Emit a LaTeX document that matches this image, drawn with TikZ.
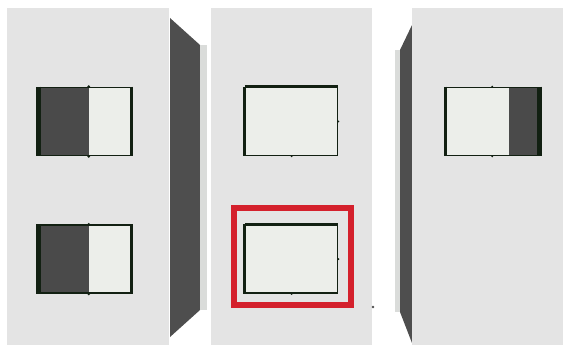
\documentclass[tikz,border=0pt]{standalone}
\usetikzlibrary{calc,positioning}
\definecolor{PanelGrey}{RGB}{228,228,228}
\definecolor{SideGrey}{RGB}{78,78,78}
\definecolor{StripGrey}{RGB}{218,220,218}
\definecolor{BoxFill}{RGB}{236,238,234}
\definecolor{BoxLine}{RGB}{18,32,18}
\definecolor{DarkFill}{RGB}{74,74,74}
\definecolor{FrameRed}{RGB}{212,32,44}
\tikzset{
  panel/.style={fill=PanelGrey},
  side/.style={fill=SideGrey},
  strip/.style={fill=StripGrey},
  win/.style={draw=BoxLine,fill=BoxFill,line width=1.6pt,
              minimum width=92pt,minimum height=68pt,inner sep=0pt},
  darkleft/.style={path picture={\fill[DarkFill] (path picture bounding box.north west)
      rectangle ($(path picture bounding box.south west)!0.54!(path picture bounding box.south east)$);}},
  darkright/.style={path picture={\fill[DarkFill] ($(path picture bounding box.north west)!0.68!(path picture bounding box.north east)$)
      rectangle (path picture bounding box.south east);}},
  edge/.style={draw=BoxLine,line width=#1},
  redframe/.style={draw=FrameRed,line width=6pt},
}
\begin{document}
\begin{tikzpicture}[x=1pt,y=-1pt]
    % Canvas
    \useasboundingbox[fill=white] (0,0) rectangle (563,345);

    % Panels and slanted sides
    \fill[panel] (7,8) rectangle (169,345);
    \fill[side] (170,18) -- (200,45) -- (200,310) -- (170,337) -- cycle;
    \fill[strip] (200,45) rectangle (207,310);
    \fill[panel] (211,8) rectangle (372,345);
    \fill[strip] (395,50) rectangle (400,312);
    \fill[side] (400,50) -- (412,25) -- (412,343) -- (400,312) -- cycle;
    \fill[panel] (412,8) rectangle (563,345);

    % Node definitions
    \node[win, darkleft] (lt) at (85,121.5) {};
    \node[win, darkleft, below=68pt of lt] (lb) {};
    \node[win, right=113pt of lt] (ct) {};
    \node[win, below=68pt of ct] (cb) {};
    \node[win, darkright, right=107pt of ct] (rt) {};

    % Heavy edges
    \foreach \b in {lt,lb}{
      \draw[edge=5pt] (\b.north west) -- (\b.south west);
      \draw[edge=3pt] (\b.north east) -- (\b.south east);
    }
    \foreach \b in {ct,cb}{
      \draw[edge=3pt] (\b.north west) -- (\b.south west);
      \draw[edge=2.4pt] (\b.north west) -- (\b.north east);
    }
    \draw[edge=5pt] (rt.north east) -- (rt.south east);
    \draw[edge=3pt] (rt.north west) -- (rt.south west);

    % Ticks
    \foreach \b in {lt,lb}{
      \fill[BoxLine] ($(\b.north west)!0.54!(\b.north east)$) circle (1.5pt);
      \fill[BoxLine] ($(\b.south west)!0.54!(\b.south east)$) circle (1.5pt);
      \fill[BoxLine] (\b.east) circle (1pt);
    }
    \foreach \b in {ct,cb,rt}
      \foreach \a in {north,south,east,west}
        \fill[BoxLine] (\b.\a) circle (1pt);

    % Highlight
    \draw[redframe] ($(cb.north west)+(-11,-16)$) rectangle ($(cb.south east)+(13,11)$);
    \fill[SideGrey] (373,307) circle (1.3pt);
\end{tikzpicture}
\end{document}
